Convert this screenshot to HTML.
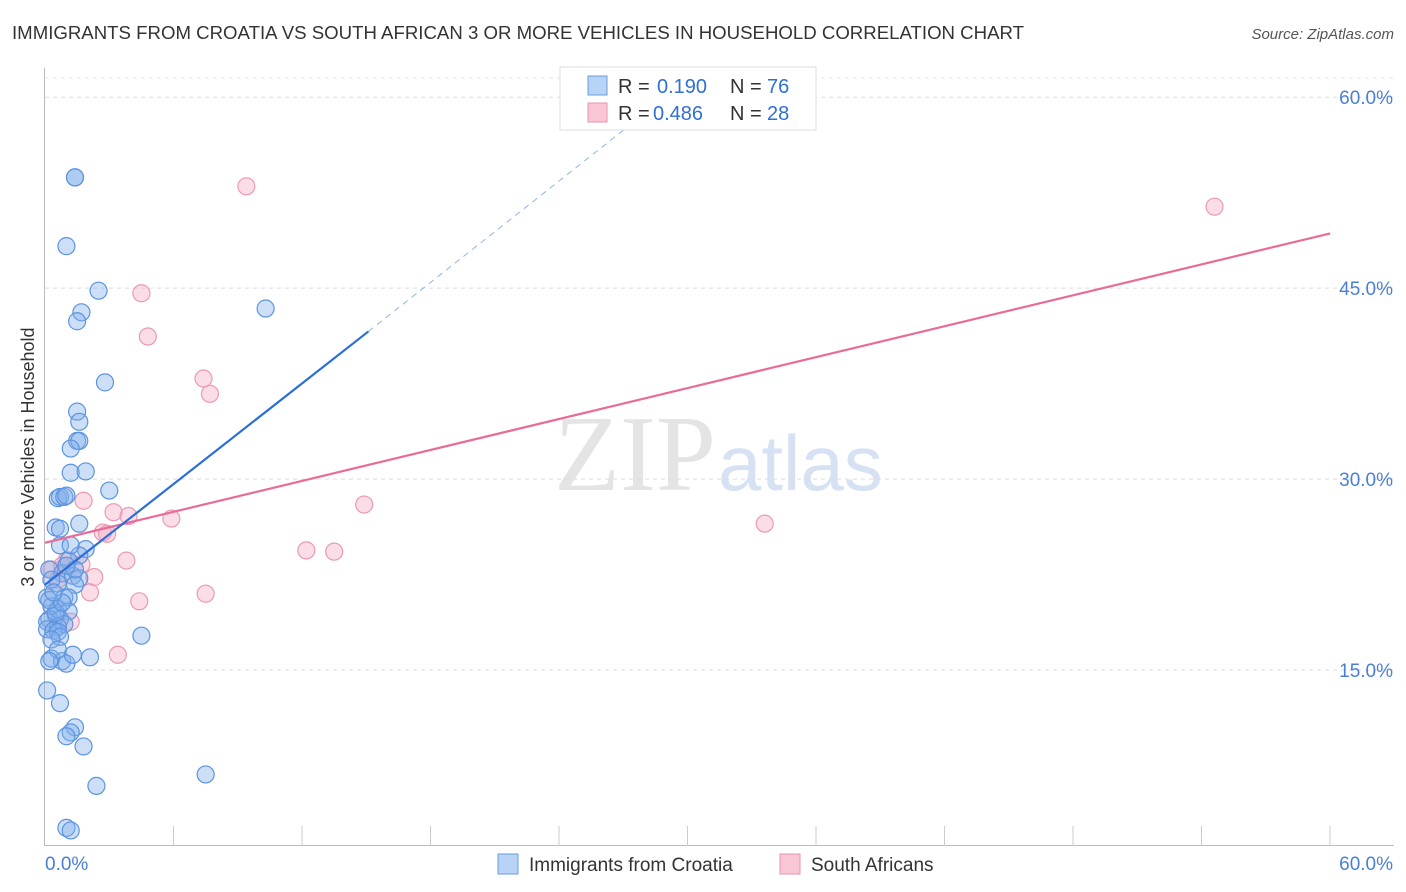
<!DOCTYPE html>
<html><head><meta charset="utf-8">
<style>
body{margin:0;background:#fff;font-family:"Liberation Sans",sans-serif;}
#wrap{position:relative;width:1406px;height:892px;overflow:hidden;}
</style></head>
<body><div id="wrap">
<svg id="svg" width="1406" height="892">
<text x="12" y="39" font-size="18" fill="#333" textLength="1012" lengthAdjust="spacingAndGlyphs">IMMIGRANTS FROM CROATIA VS SOUTH AFRICAN 3 OR MORE VEHICLES IN HOUSEHOLD CORRELATION CHART</text>
<text x="1394" y="39" font-size="15" fill="#555" font-style="italic" text-anchor="end">Source: ZipAtlas.com</text>
<text x="716" y="490" font-size="108" fill="#e4e4e4" font-family="Liberation Serif,serif" text-anchor="end">ZIP</text>
<text x="718" y="490" font-size="78" fill="#d6e2f3">atlas</text>
<text transform="translate(34,457) rotate(-90)" font-size="18" fill="#333" text-anchor="middle">3 or more Vehicles in Household</text>
<g id="grid"></g><g id="pts"></g><g id="lines"></g>
<g>
<rect x="560" y="67" width="256" height="63" fill="#fff" stroke="#ddd"/>
<rect x="588" y="76" width="19" height="19" fill="#b7d3f5" stroke="#6a9de0"/>
<rect x="588" y="103" width="19" height="19" fill="#f9c6d6" stroke="#e893ae"/>
<text x="618" y="93" font-size="20" fill="#333">R =</text><text x="657" y="93" font-size="20" fill="#2f6fd6">0.190</text>
<text x="730" y="93" font-size="20" fill="#333">N =</text><text x="767" y="93" font-size="20" fill="#2f6fd6">76</text>
<text x="618" y="120" font-size="20" fill="#333">R =</text><text x="653" y="120" font-size="20" fill="#2f6fd6">0.486</text>
<text x="730" y="120" font-size="20" fill="#333">N =</text><text x="767" y="120" font-size="20" fill="#2f6fd6">28</text>
</g>
<g>
<rect x="498" y="854" width="20" height="20" fill="#b7d3f5" stroke="#6a9de0"/>
<text x="529" y="871" font-size="19" fill="#333">Immigrants from Croatia</text>
<rect x="780" y="854" width="20" height="20" fill="#f9c6d6" stroke="#e893ae"/>
<text x="811" y="871" font-size="19" fill="#333">South Africans</text>
</g>
</svg></div>
<script>
const yTicks=[15,30,45,60];
const yTickLabels=["15.0%","30.0%","45.0%","60.0%"];
const xTickLabels=["0.0%","60.0%"];
const blueX=[1.4,1.4,1.0,2.5,1.7,1.5,10.3,2.8,1.5,1.6,1.5,1.6,1.2,1.2,1.9,3.0,0.6,0.7,0.9,1.0,1.6,0.5,0.7,0.7,1.9,1.6,1.1,0.2,0.8,1.3,1.6,0.6,1.4,0.1,0.9,1.1,0.3,0.6,1.1,0.5,0.2,0.7,0.1,0.9,0.6,0.1,0.4,0.6,0.7,4.5,0.3,0.8,1.0,2.1,0.1,0.7,1.4,1.2,1.0,1.8,7.5,2.4,1.0,1.2,0.3,0.5,0.2,0.8,1.2,0.6,0.3,1.4,0.4,1.0,1.3,0.2];
const blueY=[53.7,53.7,48.3,44.8,43.1,42.4,43.4,37.6,35.3,34.5,33.0,33.0,32.4,30.5,30.6,29.1,28.5,28.6,28.6,28.7,26.5,26.2,26.1,24.8,24.5,24.0,23.6,22.9,22.6,22.4,22.2,21.8,21.7,20.7,20.7,20.7,20.0,19.8,19.6,19.3,19.0,19.0,18.8,18.6,18.4,18.2,18.1,18.0,17.6,17.7,15.9,15.7,15.5,16.0,13.4,12.4,10.5,10.1,9.8,9.0,6.8,5.9,2.6,2.4,17.4,19.5,20.5,20.3,24.8,16.6,22.1,22.9,21.1,23.2,16.2,15.7];
const pinkX=[9.4,54.6,4.5,4.8,7.4,7.7,1.8,14.9,3.2,3.9,5.9,2.7,2.9,33.6,12.2,13.5,3.8,1.0,1.7,2.3,2.1,4.4,7.5,0.8,0.6,1.2,3.4,0.3];
const pinkY=[53.0,51.4,44.6,41.2,37.9,36.7,28.3,28.0,27.4,27.1,26.9,25.8,25.7,26.5,24.4,24.3,23.6,23.6,23.3,22.3,21.1,20.4,21.0,23.2,22.1,18.8,16.2,22.9];
const blueLine=[0,21.7,15.1,41.6];const blueDash=[15.1,41.6,27.3,57.8];
const pinkLine=[0,25.0,60,49.3];
const X=v=>45+v*21.42, Y=v=>861-v*12.73;
const NS="http://www.w3.org/2000/svg";
function mk(t,a,p){const e=document.createElementNS(NS,t);for(const k in a)e.setAttribute(k,a[k]);p.appendChild(e);return e;}
const g=document.getElementById('grid');
yTicks.forEach((t,i)=>{
 const l=mk('line',{x1:45,x2:1394,y1:Y(t),y2:Y(t),stroke:'#ddd','stroke-dasharray':'4,4'},g);
 
 
 const tx=mk('text',{x:1393,y:Y(t)+7,'font-size':19,fill:'#4a7fd4','text-anchor':'end'},g);tx.textContent=yTickLabels[i];
 
 
});
mk('line',{x1:45,x2:1394,y1:78,y2:78,stroke:'#e5e5e5','stroke-dasharray':'4,4'},g);
mk('line',{x1:44.5,x2:44.5,y1:68,y2:846,stroke:'#bbb'},g);
mk('line',{x1:44,x2:1394,y1:845.5,y2:845.5,stroke:'#bbb'},g);
for(let i=1;i<=10;i++){const x=45+i*128.5;mk('line',{x1:x,x2:x,y1:826,y2:846,stroke:'#ccc'},g);}
[[45,'start'],[1393,'end']].forEach((d,i)=>{const t=mk('text',{x:d[0],y:870,'font-size':19,fill:'#4a7fd4','text-anchor':d[1]},g);t.textContent=xTickLabels[i];
 
 });
const p=document.getElementById('pts');
pinkX.forEach((x,i)=>{const c=mk('circle',{cx:X(x),cy:Y(pinkY[i]),r:8.5,fill:'rgba(246,170,195,0.4)',stroke:'#eb9ab4','stroke-width':1.2},p);
 
 });
blueX.forEach((x,i)=>{const c=mk('circle',{cx:X(x),cy:Y(blueY[i]),r:8.5,fill:'rgba(130,175,235,0.4)',stroke:'#5c94e0','stroke-width':1.2},p);
 
 });
const L=document.getElementById('lines');
let e=mk('line',{x1:X(pinkLine[0]),y1:Y(pinkLine[1]),x2:X(pinkLine[2]),y2:Y(pinkLine[3]),stroke:'#e86c97','stroke-width':2.2},L);


e=mk('line',{x1:X(blueLine[0]),y1:Y(blueLine[1]),x2:X(blueLine[2]),y2:Y(blueLine[3]),stroke:'#2a6fd8','stroke-width':2.2},L);


e=mk('line',{x1:X(blueDash[0]),y1:Y(blueDash[1]),x2:X(blueDash[2]),y2:Y(blueDash[3]),stroke:'#8fb4e8','stroke-width':1,'stroke-dasharray':'6,5'},L);


</script>
</body></html>
